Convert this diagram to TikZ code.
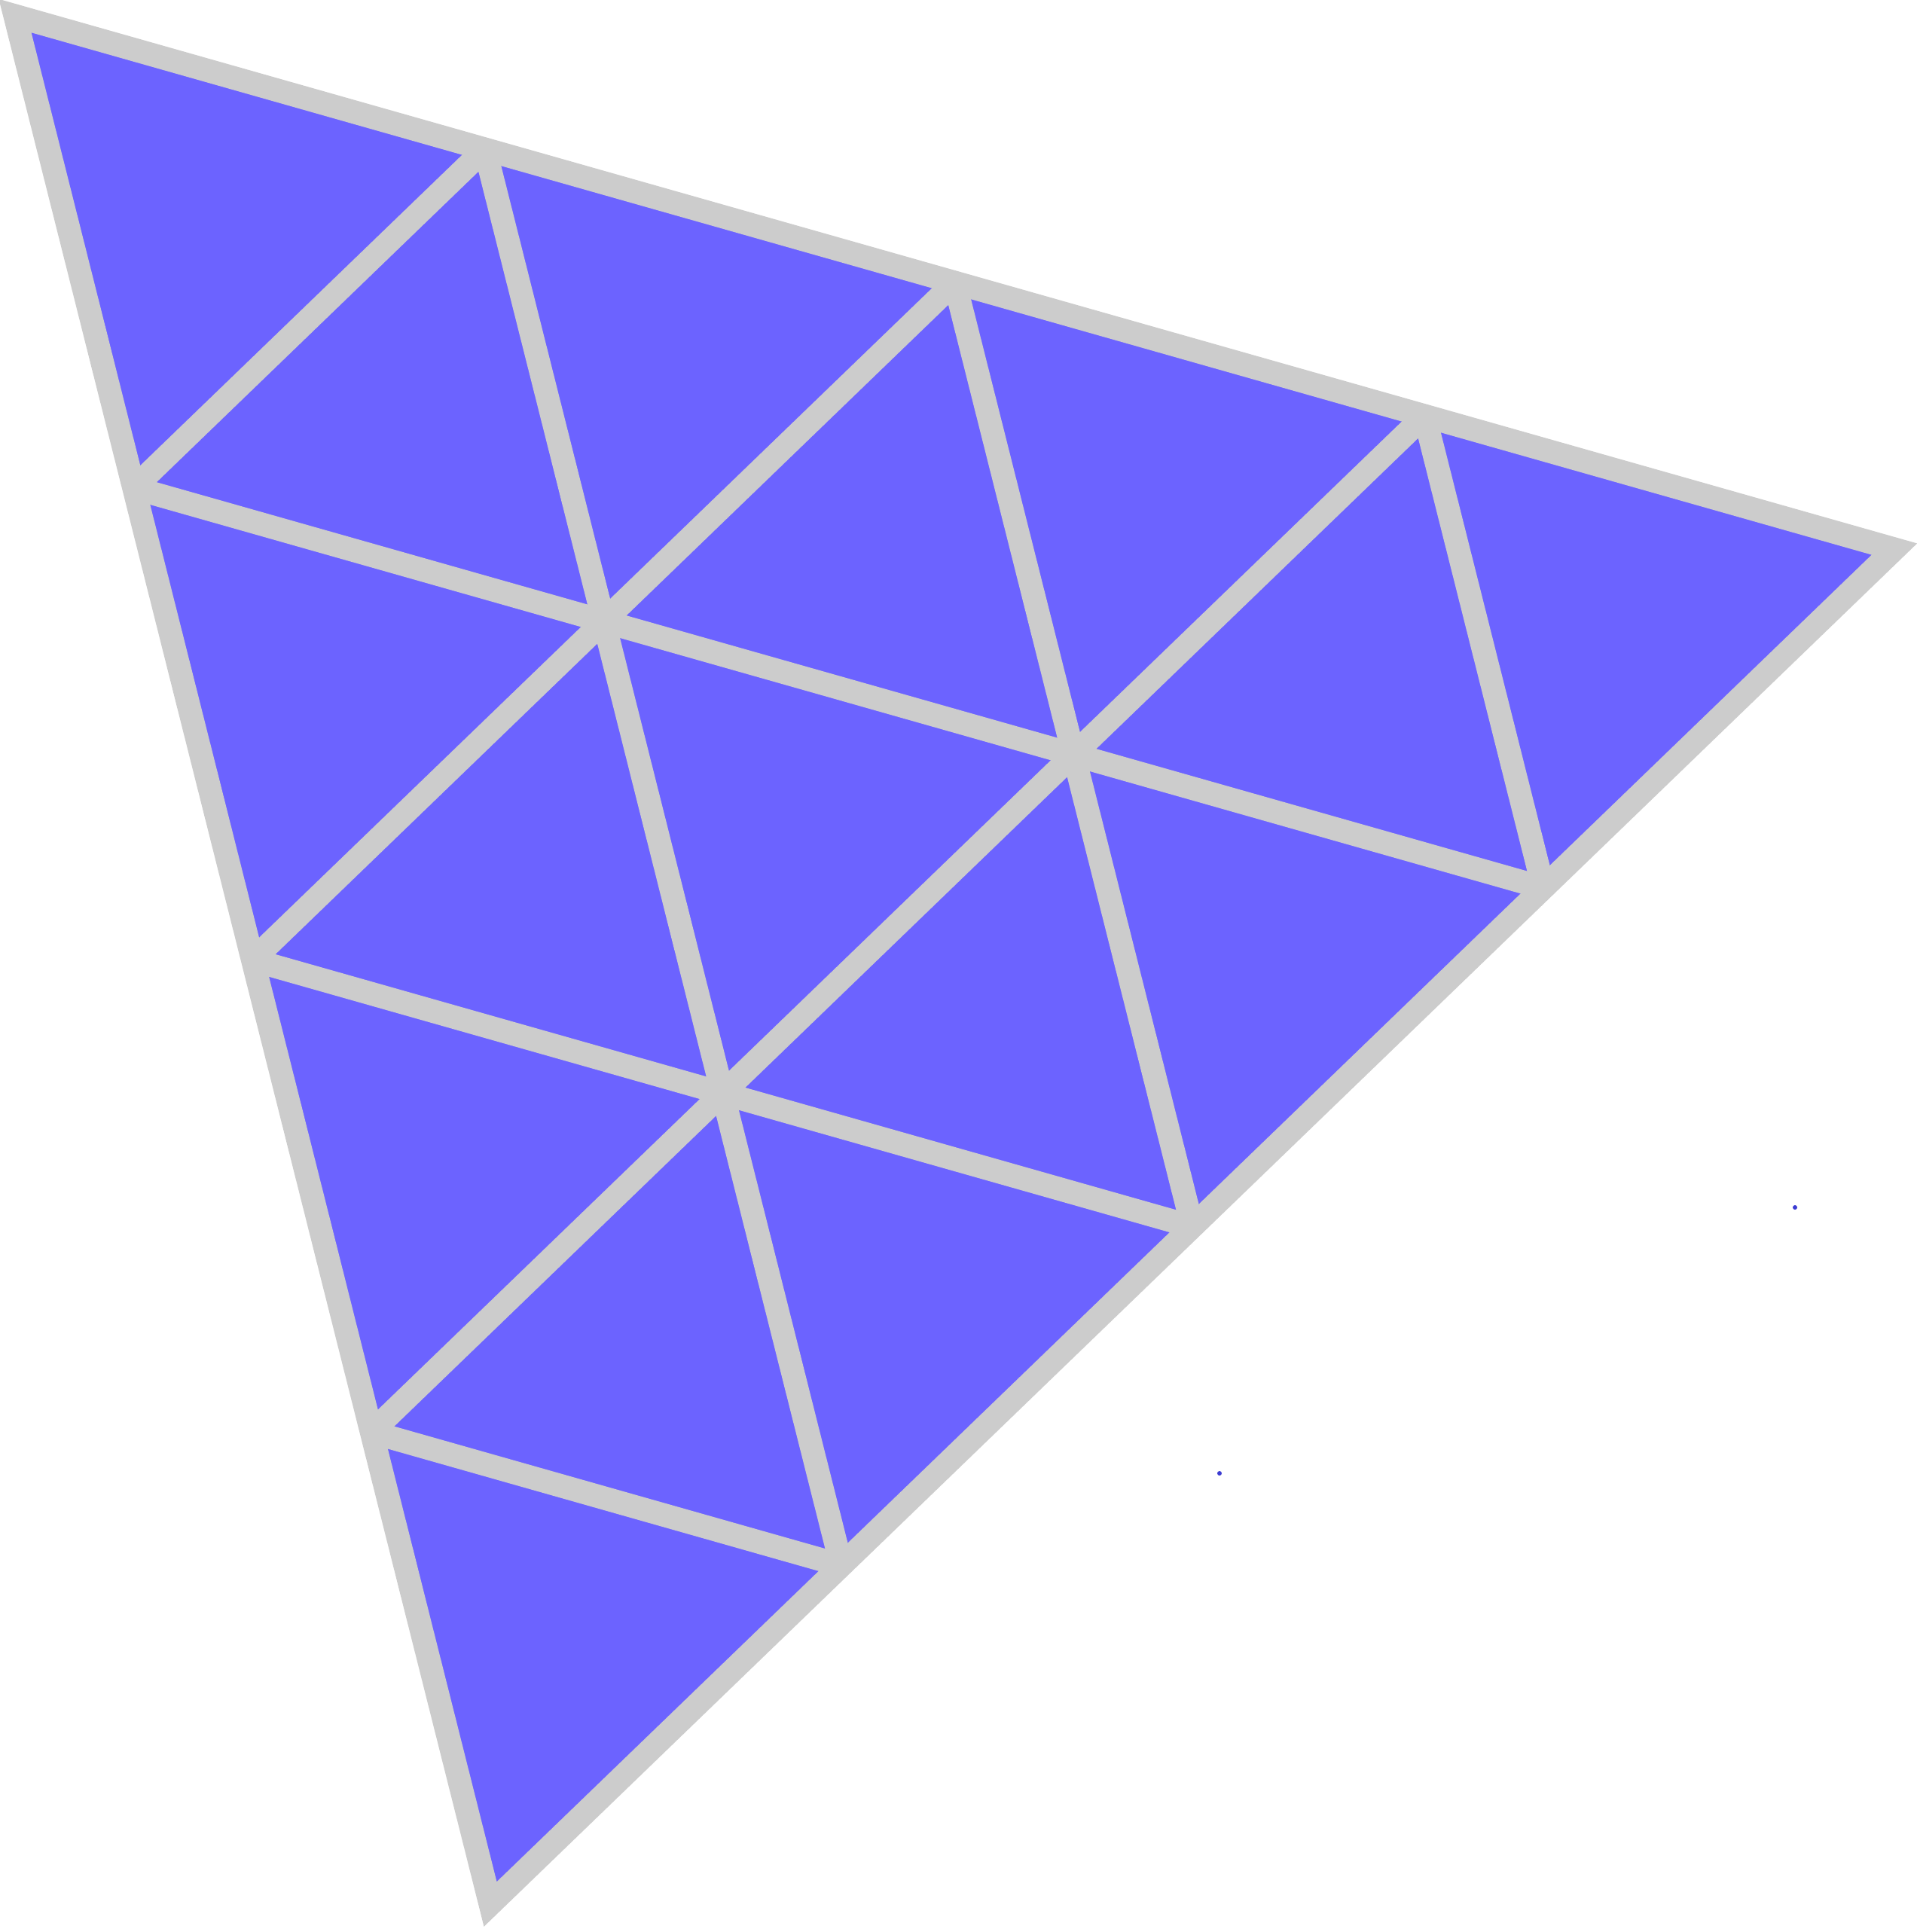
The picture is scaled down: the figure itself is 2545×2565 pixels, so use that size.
\documentclass[tikz,border=0pt]{standalone}
\usetikzlibrary{calc}
\definecolor{meshblue}{RGB}{108,99,255}
\definecolor{meshgrey}{RGB}{204,204,204}
\definecolor{dotblue}{RGB}{60,60,210}

\begin{document}
\begin{tikzpicture}[x=0.01cm,y=-0.01cm,
  meshline/.style={draw=meshgrey,line width=0.31cm,line join=miter}]
  \useasboundingbox (0,0) rectangle (2545,2565);
  \coordinate (A) at (20,21);
  \coordinate (B) at (2515,729);
  \coordinate (C) at (651,2528);
  \fill[meshblue] (A) -- (B) -- (C) -- cycle;
  \foreach \k in {1,2,3} {
    \draw[meshline] ($(A)!\k/4!(B)$) -- ($(A)!\k/4!(C)$);
    \draw[meshline] ($(A)!\k/4!(B)$) -- ($(C)!\k/4!(B)$);
    \draw[meshline] ($(A)!\k/4!(C)$) -- ($(B)!\k/4!(C)$);
  }
  \draw[meshline] (A) -- (B) -- (C) -- cycle;
  \fill[dotblue] (2383,1603) circle (3);
  \fill[dotblue] (1619,1956) circle (3);
\end{tikzpicture}
\end{document}
